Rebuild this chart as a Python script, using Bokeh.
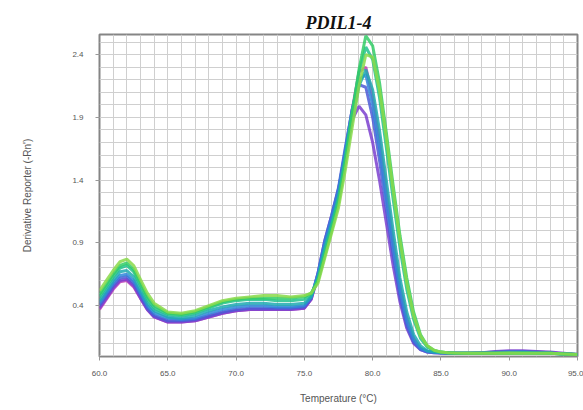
import numpy as np
from bokeh.plotting import figure
from bokeh.models import Range1d, FixedTicker
from bokeh.embed import file_html
from bokeh.resources import INLINE

# Melt-curve temperatures (°C), shared by every well
temperature = [60, 60.5, 61, 61.5, 62, 62.5, 63, 63.5, 64,
               65, 66, 67, 68, 69, 70, 71, 72, 73, 74, 75,
               75.5, 76, 76.5, 77, 77.5, 78, 78.5, 79, 79.5, 80, 80.5, 81, 81.5,
               82, 82.5, 83, 83.5, 84, 84.5, 85, 85.5, 86,
               87, 88, 89, 90, 91, 92, 93, 94, 95]

# Derivative reporter (-Rn') per well
well_yellowgreen = [0.52, 0.60, 0.68, 0.75, 0.77, 0.72, 0.61, 0.50, 0.42,
                    0.35, 0.34, 0.36, 0.40, 0.44, 0.46, 0.47, 0.48, 0.48, 0.47, 0.48,
                    0.50, 0.58, 0.78, 0.98, 1.18, 1.48, 1.82, 2.15, 2.40, 2.38, 2.12, 1.74, 1.32,
                    0.92, 0.58, 0.32, 0.16, 0.08, 0.045, 0.03, 0.025, 0.022,
                    0.02, 0.02, 0.02, 0.022, 0.02, 0.02, 0.02, 0.015, 0.01]
well_green = [0.49, 0.57, 0.65, 0.72, 0.74, 0.69, 0.58, 0.47, 0.40,
              0.34, 0.33, 0.35, 0.39, 0.43, 0.45, 0.46, 0.46, 0.46, 0.46, 0.47,
              0.50, 0.60, 0.80, 1.00, 1.22, 1.54, 1.92, 2.28, 2.55, 2.47, 2.18, 1.78, 1.36,
              0.96, 0.62, 0.35, 0.17, 0.08, 0.045, 0.03, 0.025, 0.022,
              0.02, 0.02, 0.02, 0.02, 0.02, 0.02, 0.02, 0.015, 0.01]
well_seagreen = [0.47, 0.55, 0.63, 0.70, 0.72, 0.67, 0.56, 0.45, 0.38,
                 0.33, 0.32, 0.34, 0.38, 0.42, 0.44, 0.45, 0.45, 0.44, 0.44, 0.45,
                 0.49, 0.61, 0.83, 1.04, 1.26, 1.58, 1.94, 2.26, 2.46, 2.36, 2.06, 1.66, 1.25,
                 0.86, 0.53, 0.29, 0.14, 0.07, 0.04, 0.03, 0.025, 0.022,
                 0.02, 0.02, 0.02, 0.02, 0.025, 0.02, 0.02, 0.015, 0.01]
well_teal = [0.44, 0.52, 0.60, 0.67, 0.68, 0.63, 0.52, 0.42, 0.36,
             0.31, 0.30, 0.32, 0.36, 0.39, 0.41, 0.42, 0.42, 0.41, 0.41, 0.42,
             0.47, 0.62, 0.86, 1.05, 1.24, 1.55, 1.88, 2.15, 2.28, 2.12, 1.80, 1.40, 1.00,
             0.62, 0.35, 0.17, 0.08, 0.04, 0.03, 0.025, 0.022, 0.02,
             0.02, 0.02, 0.02, 0.02, 0.02, 0.02, 0.02, 0.015, 0.01]
well_blue = [0.42, 0.50, 0.58, 0.64, 0.65, 0.60, 0.50, 0.40, 0.34,
             0.30, 0.29, 0.30, 0.34, 0.37, 0.39, 0.40, 0.40, 0.39, 0.39, 0.40,
             0.47, 0.65, 0.90, 1.10, 1.32, 1.64, 1.96, 2.20, 2.24, 2.00, 1.66, 1.26, 0.88,
             0.53, 0.28, 0.13, 0.06, 0.035, 0.028, 0.024, 0.022, 0.02,
             0.02, 0.02, 0.025, 0.03, 0.03, 0.025, 0.02, 0.015, 0.01]
well_royalblue = [0.40, 0.48, 0.56, 0.62, 0.63, 0.58, 0.48, 0.38, 0.32,
                  0.28, 0.28, 0.29, 0.32, 0.35, 0.37, 0.38, 0.38, 0.38, 0.38, 0.39,
                  0.46, 0.66, 0.92, 1.12, 1.34, 1.66, 1.96, 2.16, 2.14, 1.90, 1.56, 1.17, 0.80,
                  0.47, 0.24, 0.11, 0.05, 0.03, 0.025, 0.022, 0.02, 0.02,
                  0.02, 0.025, 0.03, 0.035, 0.035, 0.03, 0.025, 0.015, 0.01]
well_purple = [0.38, 0.46, 0.54, 0.60, 0.61, 0.56, 0.46, 0.37, 0.31,
               0.27, 0.27, 0.28, 0.31, 0.34, 0.36, 0.37, 0.37, 0.37, 0.37, 0.38,
               0.45, 0.66, 0.92, 1.12, 1.33, 1.62, 1.88, 1.99, 1.92, 1.70, 1.40, 1.06, 0.72,
               0.43, 0.22, 0.10, 0.05, 0.03, 0.025, 0.022, 0.02, 0.02,
               0.02, 0.025, 0.035, 0.04, 0.04, 0.035, 0.03, 0.02, 0.01]
well_magenta = [0.37, 0.45, 0.53, 0.59, 0.60, 0.55, 0.46, 0.37, 0.31,
                0.27, 0.27, 0.28, 0.31, 0.34, 0.36, 0.37, 0.37, 0.37, 0.37, 0.38,
                0.45, 0.63, 0.88, 1.08, 1.30, 1.62, 1.96, 2.26, 2.30, 2.06, 1.72, 1.32, 0.92,
                0.56, 0.30, 0.14, 0.06, 0.035, 0.028, 0.024, 0.022, 0.02,
                0.02, 0.02, 0.025, 0.03, 0.03, 0.03, 0.025, 0.015, 0.01]

# Drawn back to front
wells = [
    (well_magenta, "#c040b8"),
    (well_purple, "#7b3fcf"),
    (well_royalblue, "#4b5bd6"),
    (well_blue, "#2f86d8"),
    (well_teal, "#1faab2"),
    (well_seagreen, "#22c28c"),
    (well_green, "#33cc66"),
    (well_yellowgreen, "#8ad94a"),
]

x_tick_values = [60, 65, 70, 75, 80, 85, 90, 95]
x_tick_labels = ["60.0", "65.0", "70.0", "75.0", "80.0", "85.0", "90.0", "95.0"]
y_tick_values = [0.4, 0.9, 1.4, 1.9, 2.4]
y_tick_labels = ["0.4", "0.9", "1.4", "1.9", "2.4"]

p = figure(width=583, height=410, output_backend="svg", toolbar_location=None,
           x_range=Range1d(60, 95), y_range=Range1d(-0.005, 2.56),
           min_border_left=99, min_border_right=6, min_border_top=34,
           min_border_bottom=54, title="PDIL1-4")

p.title.text_font = "Liberation Serif"
p.title.text_font_style = "bold italic"
p.title.text_font_size = "18px"
p.title.align = "center"
p.title.text_color = "#111111"
p.title.standoff = 4

for vals, col in wells:
    p.line(temperature, vals, line_color=col, line_width=3, line_alpha=0.85)

p.outline_line_color = "#858585"
p.outline_line_width = 2
p.background_fill_color = "white"

# fine grid: every 1 °C and every 0.1 units
p.xgrid.ticker = FixedTicker(ticks=list(np.arange(60, 96, 1.0)))
p.ygrid.ticker = FixedTicker(ticks=list(np.round(np.arange(0.0, 2.56, 0.1), 2)))
for g in (p.xgrid, p.ygrid):
    g.grid_line_color = "#cfcfcf"
    g.grid_line_width = 1
    g.grid_line_alpha = 1.0

for ax in (p.xaxis, p.yaxis):
    ax.axis_line_color = None
    ax.major_tick_line_color = "#999999"
    ax.major_tick_out = 4
    ax.major_tick_in = 0
    ax.minor_tick_line_color = None
    ax.major_label_text_font = "Liberation Sans"
    ax.major_label_text_font_size = "8px"
    ax.major_label_text_color = "#555555"
    ax.axis_label_text_font = "Liberation Sans"
    ax.axis_label_text_font_size = "10px"
    ax.axis_label_text_font_style = "normal"
    ax.axis_label_text_color = "#555555"

p.xaxis.ticker = FixedTicker(ticks=x_tick_values)
p.xaxis.major_label_overrides = {v: l for v, l in zip(x_tick_values, x_tick_labels)}
p.xaxis.axis_label = "Temperature (°C)"
p.xaxis.major_label_standoff = 10
p.xaxis.axis_label_standoff = 14

p.yaxis.ticker = FixedTicker(ticks=y_tick_values)
p.yaxis.major_label_overrides = {v: l for v, l in zip(y_tick_values, y_tick_labels)}
p.yaxis.axis_label = "Derivative Reporter (-Rn')"
p.yaxis.major_label_standoff = 12
p.yaxis.axis_label_standoff = 36

open("out.html", "w").write(file_html(p, INLINE))
